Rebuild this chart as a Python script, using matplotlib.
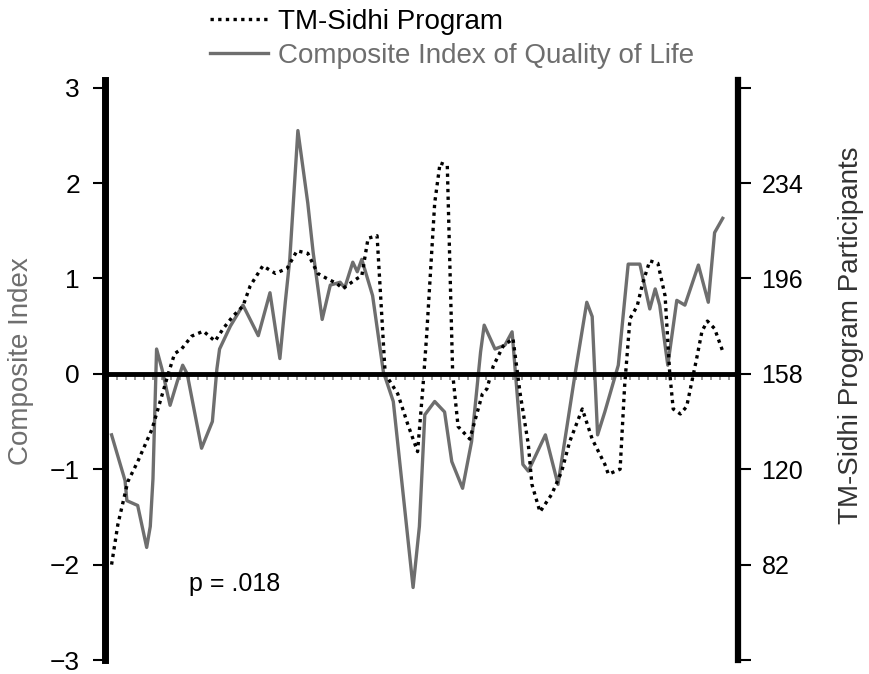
import numpy as np
import matplotlib
matplotlib.use("Agg")
import matplotlib.pyplot as plt
from matplotlib.lines import Line2D

plt.rcParams['font.family'] = ['Liberation Sans', 'DejaVu Sans']

# month index
cqol_month = [0.4, 1.9, 2.1, 3.3, 4.3, 4.7, 5.0, 5.4, 6.0, 6.9, 7.7, 8.3, 8.8, 10.4, 11.6,
              12.1, 12.4, 13.6, 15.0, 16.7, 18.0, 19.1, 19.7, 20.2, 21.1, 22.2, 22.8, 23.8,
              24.7, 25.8, 26.3, 27.2, 27.7, 28.2, 29.4, 30.6, 31.7, 33.9, 34.6, 35.2, 36.3,
              37.4, 38.2, 39.4, 40.4, 41.4, 41.8, 43.0, 44.1, 44.9, 46.1, 46.7, 48.6, 50.0,
              51.9, 53.2, 53.8, 54.4, 55.2, 56.7, 57.8, 59.1, 60.2, 60.8, 61.3, 62.2, 63.2,
              64.1, 65.6, 66.7, 67.4, 68.3]
cqol = [-0.64, -1.12, -1.33, -1.38, -1.82, -1.6, -1.1, 0.26, 0.05, -0.33, -0.08, 0.09, 0.0,
        -0.78, -0.5, 0.05, 0.26, 0.5, 0.72, 0.4, 0.85, 0.16, 0.75, 1.2, 2.55, 1.79, 1.27,
        0.57, 0.93, 0.96, 0.9, 1.17, 1.07, 1.2, 0.82, 0.02, -0.29, -2.24, -1.6, -0.43, -0.29,
        -0.4, -0.92, -1.2, -0.71, 0.23, 0.51, 0.26, 0.3, 0.44, -0.95, -1.02, -0.64, -1.16,
        0.0, 0.75, 0.6, -0.64, -0.4, 0.09, 1.15, 1.15, 0.68, 0.89, 0.72, 0.09, 0.77, 0.72,
        1.14, 0.75, 1.48, 1.63]

tm_month = [0.4, 1.1, 2.2, 3.3, 4.9, 5.8, 6.7, 7.4, 8.2, 9.3, 10.6, 11.9, 12.8, 13.9, 15.0,
            15.8, 17.2, 18.6, 19.9, 21.0, 22.2, 23.3, 24.3, 25.4, 26.1, 27.7, 28.2, 28.9,
            29.9, 30.8, 32.2, 33.3, 34.4, 35.0, 35.4, 36.3, 36.9, 37.7, 38.3, 38.9, 40.2,
            41.6, 42.1, 42.8, 43.9, 45.0, 45.8, 46.7, 47.1, 48.0, 49.3, 50.4, 51.3, 52.7,
            53.8, 55.2, 55.6, 56.9, 57.4, 58.0, 58.8, 59.4, 60.2, 61.1, 61.9, 62.4, 62.8,
            63.6, 64.3, 65.4, 66.0, 66.6, 67.4, 68.3]
tm_sidhi = [82, 98, 115, 123, 136, 147, 158, 166, 168, 173, 175, 171, 176, 181, 185, 193,
            201, 198, 200, 207, 206, 198, 196, 194, 192, 196, 197, 212, 213, 158, 150, 138,
            127, 153, 173, 226, 242, 241, 158, 137, 132, 150, 152, 161, 169, 172, 150, 130,
            114, 103, 110, 119, 131, 144, 132, 122, 118, 120, 153, 180, 185, 194, 203, 202,
            189, 159, 144, 142, 145, 164, 175, 179, 176, 167]

left_ticks = [-3, -2, -1, 0, 1, 2, 3]
left_labels = ['\u22123', '\u22122', '\u22121', '0', '1', '2', '3']
right_ticks = [44, 82, 120, 158, 196, 234, 272]
right_labels = ['', '82', '120', '158', '196', '234', '']

fig = plt.figure(figsize=(8.69, 6.74), dpi=100)
ax = fig.add_axes([105 / 869, 14 / 674, 633 / 869, 580 / 674])
ax2 = ax.twinx()

ax.plot(cqol_month, cqol, color='#6e6e6e', lw=2.4, zorder=3)
ax2.plot(tm_month, tm_sidhi, color='black', lw=2.4, ls=(0, (1, 1.3)), zorder=3)

ax.set_xlim(-0.33, 70)
ax.set_ylim(-3, 3.08)
ax2.set_ylim(158 - 38 * 3, 158 + 38 * 3.08)

# spines
ax.spines['top'].set_visible(False)
ax2.spines['top'].set_visible(False)
ax.spines['right'].set_visible(False)
ax2.spines['left'].set_visible(False)
ax2.spines['bottom'].set_visible(False)
ax.spines['left'].set_linewidth(5)
ax2.spines['right'].set_linewidth(4.5)
ax.spines['bottom'].set_position(('data', 0))
ax.spines['bottom'].set_linewidth(3.5)
ax.spines['bottom'].set_zorder(4)

ax.set_xticks(np.arange(0, 70, 1))
ax.tick_params(axis='x', direction='out', length=4, width=1.2, color='#888888',
               labelbottom=False)

ax.set_yticks(left_ticks)
ax.set_yticklabels(left_labels)
ax.tick_params(axis='y', length=9, width=1.5, labelsize=19, pad=9)
ax2.set_yticks(right_ticks)
ax2.set_yticklabels(right_labels)
ax2.tick_params(axis='y', length=9, width=1.5, labelsize=18, pad=8)

ax.set_ylabel('Composite Index', fontsize=20, color='#6e6e6e')
ax.yaxis.set_label_coords(-0.112, 0.515)
ax2.set_ylabel('TM-Sidhi Program Participants', fontsize=20, color='#333333')
ax2.yaxis.set_label_coords(1.158, 0.56)

ax.text(9.0, -2.2, 'p = .018', fontsize=18, ha='left', va='center')

handles = [Line2D([], [], color='black', lw=2.4, ls=(0, (1, 1.3))),
           Line2D([], [], color='#6e6e6e', lw=2.4)]
leg = fig.legend(handles, ['TM-Sidhi Program', 'Composite Index of Quality of Life'],
                 loc='upper left', bbox_to_anchor=(0.222, 1.012), frameon=False,
                 fontsize=20, handlelength=2.1, handletextpad=0.35, labelspacing=0.3,
                 borderpad=0.1)
leg.get_texts()[1].set_color('#6e6e6e')

fig.savefig('out.png', dpi=100)
